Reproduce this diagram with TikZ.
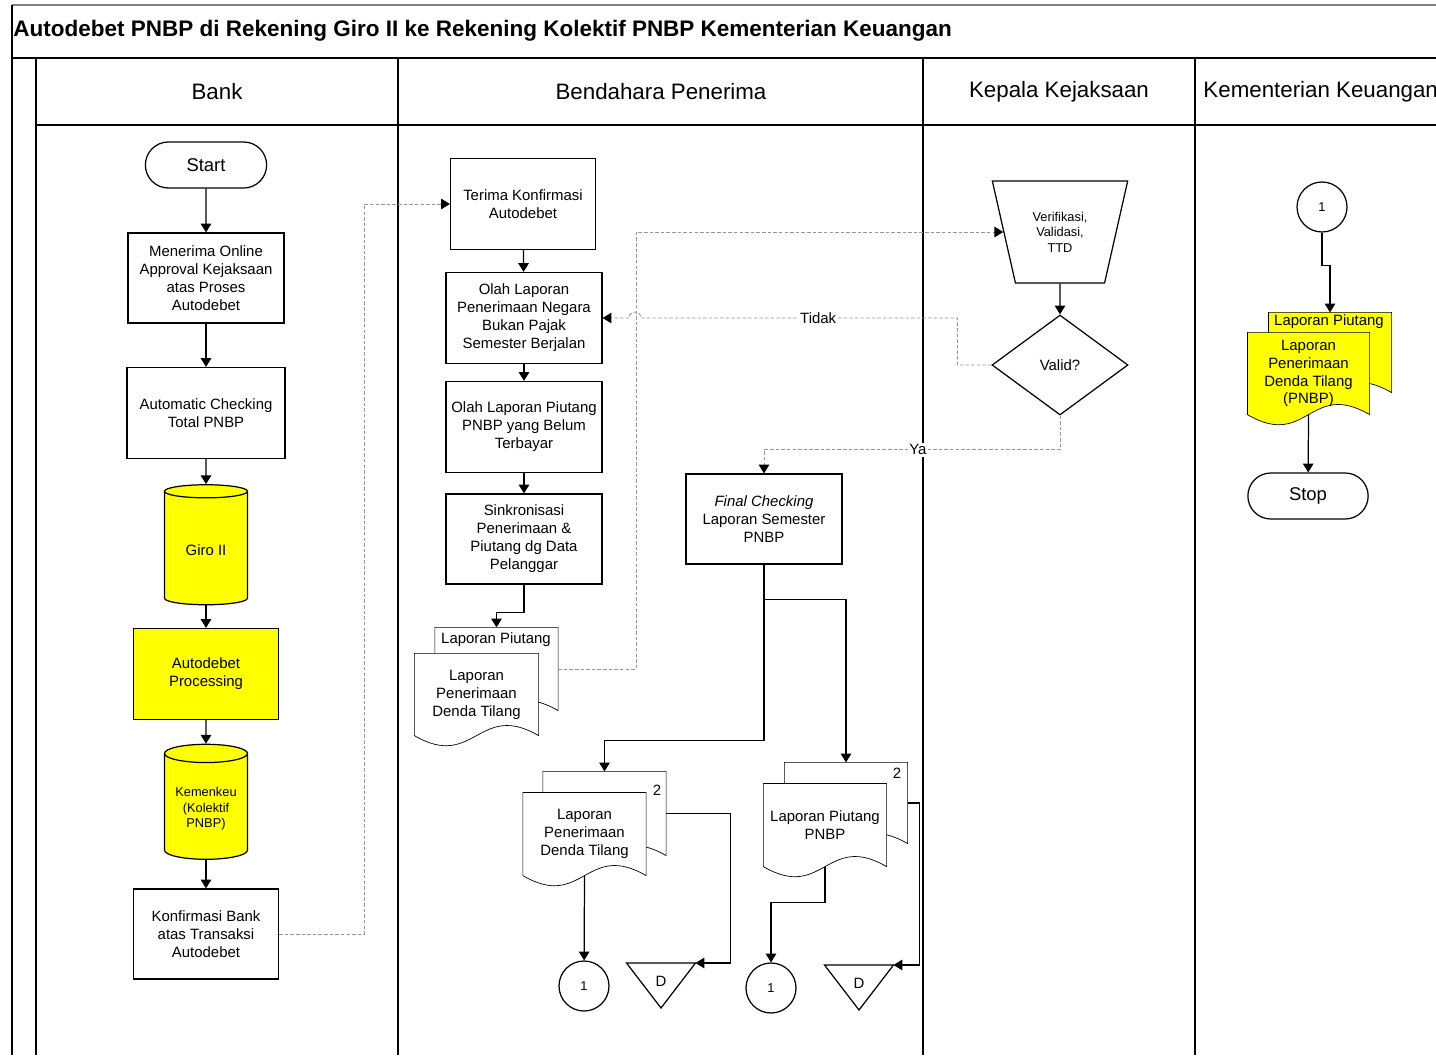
\documentclass[tikz,border=0pt]{standalone}
\usepackage{fontspec}
\setmainfont{Liberation Sans}
\usetikzlibrary{arrows.meta,shapes.geometric,shapes.misc,calc,backgrounds}

\newdimen\pu \pu=0.02cm
\newcommand{\boxfont}{\fontsize{8.5}{10.2}\selectfont}
\newcommand{\smallfont}{\fontsize{7.3}{8.8}\selectfont}
\newcommand{\lanefont}{\fontsize{12.7}{15}\selectfont}
\definecolor{storeyellow}{RGB}{255,255,0}
\definecolor{linkgray}{RGB}{150,150,150}

% document symbol drawn round node #1
\newcommand{\docoutline}[2]{%
  \filldraw[fill=#2] (#1.north west) -- (#1.north east) -- (#1.south east)
    .. controls +(-60,-35) and +(60,35) .. (#1.south west) -- cycle;}

% off-page triangle, top edge centred at (#2,#3)
\newcommand{\offpage}[3]{%
  \draw (#2-34.5,#3) -- (#2+34.5,#3) -- (#2,#3+45) -- cycle;
  \node[font=\boxfont] (#1) at (#2,#3+18) {D};
  \coordinate (#1in) at (#2+34.5,#3);}

\tikzset{
  proc/.style={draw, fill=white, align=center, font=\boxfont, inner sep=1pt,
    minimum width=156\pu, minimum height=90\pu},
  term/.style={draw, rounded rectangle, font=\fontsize{10.5}{12}\selectfont,
    minimum width=133\pu, minimum height=46\pu},
  store/.style={draw, fill=storeyellow, cylinder, shape border rotate=90, aspect=0.25,
    minimum width=83\pu, minimum height=120\pu, align=center, font=\boxfont},
  doc/.style={align=center, font=\boxfont, inner sep=0pt,
    minimum width=122\pu, minimum height=82\pu},
  conn/.style={draw, circle, inner sep=0pt, minimum size=50\pu, font=\smallfont},
  flow/.style={-{Triangle[length=5pt,width=6pt,black]}},
  link/.style={linkgray, line width=0.5pt, dash pattern=on 2pt off 1.2pt},
  lbl/.style={fill=white, font=\boxfont, inner sep=1pt, text=black},
}

\begin{document}
\begin{tikzpicture}[x=0.02cm, y=-0.02cm, line width=0.7pt]
\useasboundingbox (0,0) rectangle (1436,1055);
\clip (0,0) rectangle (1436,1055);

% frame and lanes
\draw[gray, line width=0.8pt] (12,5) -- (1436,5);
\draw[line width=0.8pt] (12,5) -- (12,1055);
\draw[line width=1.4pt] (12,58) -- (1436,58);
\draw[line width=0.8pt] (36,58) -- (36,1055) (398,58) -- (398,1055)
  (923,58) -- (923,1055) (1195,58) -- (1195,1055) (36,125) -- (1436,125);
\node[anchor=west, font=\bfseries\fontsize{12.8}{15}\selectfont] (title) at (7,31)
  {Autodebet PNBP di Rekening Giro II ke Rekening Kolektif PNBP Kementerian Keuangan};
\node[font=\lanefont] (hbank) at (217,92) {Bank};
\node[font=\lanefont] (hbend) at (661,92) {Bendahara Penerima};
\node[font=\lanefont] (hkepala) at (1059,92) {Kepala Kejaksaan};
\node[font=\lanefont, anchor=west] (hkeu) at (1197,92) {Kementerian Keuangan};

% Bank
\node[term] (start) at (206,165) {Start};
\node[proc] (online) at (206,278) {Menerima Online\\Approval Kejaksaan\\atas Proses\\Autodebet};
\node[proc, minimum width=158\pu, minimum height=91\pu] (autocheck) at (206,413) {Automatic Checking\\Total PNBP};
\node[store] (giro) at (206,550) {Giro II};
\node[proc, fill=storeyellow, minimum width=145\pu, minimum height=91\pu] (proses) at (206,674) {Autodebet\\Processing};
\node[store, minimum height=115\pu, font=\smallfont] (kemenkeu) at (206,809) {Kemenkeu\\(Kolektif\\PNBP)};
\node[proc, minimum width=145\pu] (konfirmasi) at (206,934) {Konfirmasi Bank\\atas Transaksi\\Autodebet};

\draw[flow] (start) -- (online);
\draw[flow] (online) -- (autocheck);
\draw[flow] (autocheck) -- (giro);
\draw[flow] (giro) -- (proses);
\draw[flow] (proses) -- (kemenkeu);
\draw[flow] (kemenkeu) -- (konfirmasi);

% Bendahara Penerima
\node[proc, minimum width=145\pu, minimum height=91\pu] (terima) at (523,204) {Terima Konfirmasi\\Autodebet};
\node[proc, minimum height=91\pu] (olahpnbp) at (524,318) {Olah Laporan\\Penerimaan Negara\\Bukan Pajak\\Semester Berjalan};
\node[proc, minimum height=91\pu] (olahpiutang) at (524,427) {Olah Laporan Piutang\\PNBP yang Belum\\Terbayar};
\node[proc] (sinkron) at (524,539) {Sinkronisasi\\Penerimaan \&\\Piutang dg Data\\Pelanggar};

\node[doc] (lpA) at (496.5,669) {};
\node[font=\boxfont] (lpAt) at (496,640) {Laporan Piutang};
\node[doc, minimum width=123\pu, minimum height=81\pu] (lfA) at (476.5,694.5) {Laporan\\Penerimaan\\Denda Tilang};

\node[proc] (final) at (764,519) {\textit{Final Checking}\\Laporan Semester\\PNBP};

\node[doc, minimum height=83\pu] (lpB) at (604.5,813.5) {};
\node[font=\boxfont] (nB) at (657,790) {2};
\node[doc] (lfB) at (584.5,834) {Laporan\\Penerimaan\\Denda Tilang};
\node[doc, minimum height=80\pu] (lpC) at (846,803) {};
\node[font=\boxfont] (nC) at (897,773) {2};
\node[doc] (lfC) at (825,825) {Laporan Piutang\\PNBP};

\node[conn] (c1) at (584,986) {1};
\node[conn] (c2) at (771,988) {1};
\offpage{dB}{661}{963}
\offpage{dC}{859}{965}

% Kepala Kejaksaan
\node[draw, trapezium, shape border rotate=180, trapezium left angle=71.6,
  trapezium right angle=71.6, trapezium stretches=true, minimum width=136\pu,
  minimum height=102\pu, align=center, font=\smallfont] (verif) at (1060,232) {Verifikasi,\\Validasi,\\TTD};
\node[draw, diamond, aspect=1.36, minimum width=136\pu, minimum height=100\pu,
  font=\boxfont] (valid) at (1060,365) {Valid?};

% Kementerian Keuangan
\node[conn] (c3) at (1322,207) {1};
\node[doc, minimum height=79\pu] (lpD) at (1330,352.5) {};
\node[font=\boxfont] (lpDt) at (1329,322) {Laporan Piutang};
\node[doc, minimum width=121\pu, minimum height=81\pu] (lfD) at (1308.5,373.5) {Laporan\\Penerimaan\\Denda Tilang\\(PNBP)};
\node[term, minimum width=132\pu] (stop) at (1308,496) {Stop};

\begin{scope}[on background layer]
\docoutline{lpA}{white}
\docoutline{lfA}{white}
\docoutline{lpB}{white}
\docoutline{lfB}{white}
\docoutline{lpC}{white}
\docoutline{lfC}{white}
\docoutline{lpD}{storeyellow}
\docoutline{lfD}{storeyellow}
\end{scope}

\draw[flow] (terima) -- (olahpnbp);
\draw[flow] (olahpnbp) -- (olahpiutang);
\draw[flow] (olahpiutang) -- (sinkron);
\draw[flow] (sinkron.south) -- ++(0,28) -| (lpA.north);
\draw[flow] (final.south) -- ++(0,35) -| (lpC.north);
\draw[flow] (final.south) -- ++(0,176) -| (lpB.north);
\draw[flow] (lfB.south) -- (c1);
\draw[flow] (lpB.east) -- ++(64,0) |- (dBin);
\draw[flow] (lfC.south) -- ++(0,36) -| (c2.north);
\draw[flow] (lpC.east) -- ++(12,0) |- (dCin);
\draw[flow] (verif) -- (valid);
\draw[flow] (c3.south) -- ++(0,33) -| (lpD.north);
\draw[flow] (lfD.south) -- (stop);

\draw[link, flow] (konfirmasi.east) -- ++(85,0) |- (terima.west);
\draw[link, flow] (lpA.east) -- ++(78,0) |- (verif.west);
\draw[link, flow] (valid.west) -- ++(-34,0) |- node[lbl, pos=0.72] (tidak) {Tidak} (641,318)
  arc[start angle=0, end angle=-180, radius=6] -- (olahpnbp.east);
\draw[link, flow] (valid.south) -- ++(0,34) -| node[lbl, pos=0.24] (ya) {Ya} (final.north);
\end{tikzpicture}
\end{document}
